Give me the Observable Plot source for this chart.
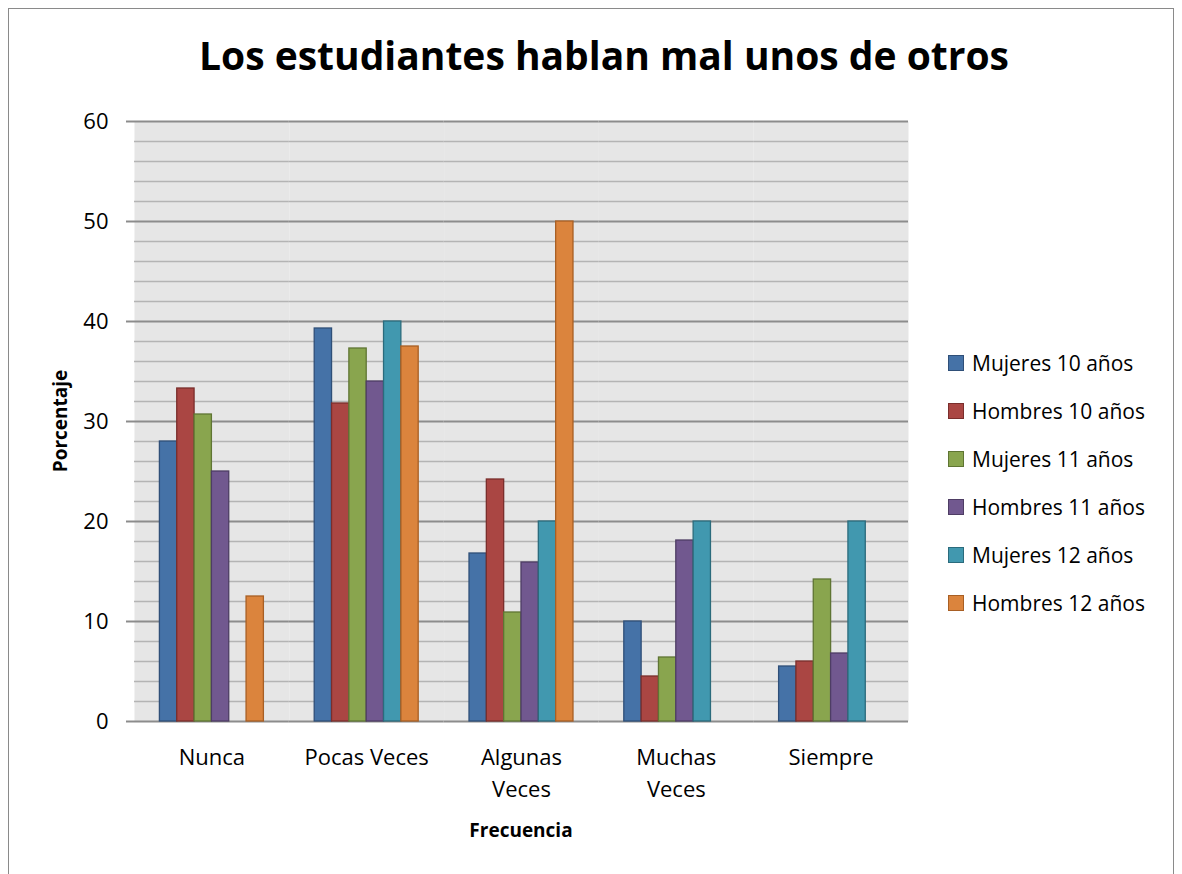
<!DOCTYPE html>
<html>
<head>
<meta charset="utf-8">
<script src="https://cdn.jsdelivr.net/npm/d3@7"></script>
<script src="https://cdn.jsdelivr.net/npm/@observablehq/plot@0.6"></script>
<style>
  html, body { margin: 0; padding: 0; background: #fff; }
  #wrap { position: relative; width: 1182px; height: 874px; overflow: hidden; font-family: "Open Sans", sans-serif; color: #000; }
  #border { position: absolute; left: 8px; top: 8px; width: 1166px; height: 900px; border: 1px solid #8a8a8a; box-sizing: border-box; }
  #title { position: absolute; left: 104px; width: 1000px; top: 35px; font-size: 39px; line-height: 39px; font-weight: bold; text-align: center; white-space: nowrap; }
  #chart { position: absolute; left: 0; top: 0; }
  #ylab { position: absolute; left: 60px; top: 421px; transform: translate(-50%, -50%) rotate(-90deg); font-size: 19px; line-height: 20px; font-weight: bold; white-space: nowrap; }
  #xlab { position: absolute; left: 421px; width: 200px; top: 820px; text-align: center; font-size: 19px; line-height: 20px; font-weight: bold; }
  #legend { position: absolute; left: 948px; top: 339px; }
  .row { display: flex; align-items: center; height: 48px; font-size: 21px; white-space: nowrap; }
  .sw { width: 14px; height: 14px; margin-right: 8px; border: 1px solid; }
</style>
</head>
<body>
<div id="wrap">
  <div id="border"></div>
  <div id="chart"></div>
  <div id="title"></div>
  <div id="ylab"></div>
  <div id="xlab"></div>
  <div id="legend"></div>
</div>
<script>
const titleText = "Los estudiantes hablan mal unos de otros";
const yTitle = "Porcentaje";
const xTitle = "Frecuencia";
const categories = ["Nunca", "Pocas Veces", "Algunas Veces", "Muchas Veces", "Siempre"];
const categoryLabels = ["Nunca", "Pocas Veces", "Algunas\nVeces", "Muchas\nVeces", "Siempre"];
const series = ["Mujeres 10 años", "Hombres 10 años", "Mujeres 11 años", "Hombres 11 años", "Mujeres 12 años", "Hombres 12 años"];
const mujeres10 = [28.0, 39.3, 16.8, 10.0, 5.5];
const hombres10 = [33.3, 31.8, 24.2, 4.5, 6.0];
const mujeres11 = [30.7, 37.3, 10.9, 6.4, 14.2];
const hombres11 = [25.0, 34.0, 15.9, 18.1, 6.8];
const mujeres12 = [0, 40.0, 20.0, 20.0, 20.0];
const hombres12 = [12.5, 37.5, 50.0, 0, 0];
const yTicks = [0, 10, 20, 30, 40, 50, 60];
const yMinorTicks = [2, 4, 6, 8, 12, 14, 16, 18, 22, 24, 26, 28, 32, 34, 36, 38, 42, 44, 46, 48, 52, 54, 56, 58];
const fills = ["#4572a7", "#aa4643", "#89a54e", "#71588f", "#4198af", "#db843d"];
const strokes = ["#2f4f78", "#7a2e2c", "#5f7533", "#4e3d64", "#2b6b7c", "#a85f24"];

const valuesBySeries = [mujeres10, hombres10, mujeres11, hombres11, mujeres12, hombres12];
const table = [];
series.forEach((s, j) => {
  categories.forEach((c, i) => {
    table.push({categoria: c, serie: s, valor: valuesBySeries[j][i]});
  });
});

const bars = series.map((s, j) => Plot.barY(
  table.filter(d => d.serie === s && d.valor > 0),
  {fx: "categoria", x: "serie", y: "valor", fill: fills[j], stroke: strokes[j], strokeWidth: 1.3}
));

const chart = Plot.plot({
  width: 930,
  height: 874,
  marginTop: 121,
  marginBottom: 153,
  marginLeft: 134,
  marginRight: 22,
  style: {fontFamily: "'Open Sans', sans-serif", fontSize: "22px", color: "#000", background: "none", overflow: "visible"},
  fx: {domain: categories, padding: 0, round: false, label: null},
  x: {domain: series, paddingInner: 0, paddingOuter: 1.466, round: false, axis: null},
  y: {domain: [0, 60], label: null},
  marks: [
    Plot.frame({fill: "#e6e6e6", stroke: "none"}),
    Plot.gridY(yMinorTicks, {stroke: "#b4b4b4", strokeOpacity: 1, strokeWidth: 1.5}),
    Plot.gridY(yTicks, {stroke: "#8c8c8c", strokeOpacity: 1, strokeWidth: 2}),
    ...bars,
    Plot.axisY(yTicks, {tickSize: 8, tickPadding: 18, stroke: "#8c8c8c", strokeWidth: 2, line: true, label: null}),
    Plot.axisFx({anchor: "bottom", tickSize: 0, tickPadding: 21, lineHeight: 1.44, label: null,
      tickFormat: d => categoryLabels[categories.indexOf(d)]})
  ]
});
document.getElementById("chart").appendChild(chart);
document.getElementById("title").textContent = titleText;
document.getElementById("ylab").textContent = yTitle;
document.getElementById("xlab").textContent = xTitle;
const legend = document.getElementById("legend");
series.forEach((s, j) => {
  const row = document.createElement("div");
  row.className = "row";
  const sw = document.createElement("span");
  sw.className = "sw";
  sw.style.background = fills[j];
  sw.style.borderColor = strokes[j];
  const t = document.createElement("span");
  t.textContent = s;
  row.appendChild(sw);
  row.appendChild(t);
  legend.appendChild(row);
});
</script>
</body>
</html>
